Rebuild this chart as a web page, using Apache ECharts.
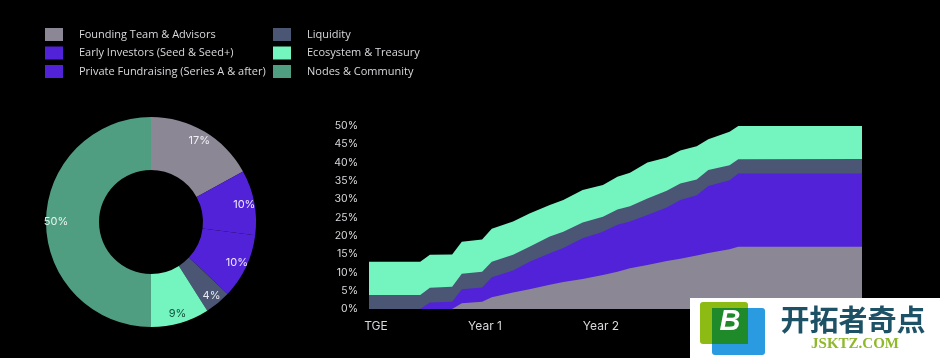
<!DOCTYPE html>
<html>
<head>
<meta charset="utf-8">
<style>html,body{margin:0;padding:0;background:#000}#c{width:940px;height:358px}</style>
<script src="https://cdn.jsdelivr.net/npm/echarts@6/dist/echarts.min.js"></script>
</head>
<body>
<div id="c"></div>
<script>
const allocationNames = ['Founding Team & Advisors','Early Investors (Seed & Seed+)','Private Fundraising (Series A & after)','Liquidity','Ecosystem & Treasury','Nodes & Community'];
const allocationValues = [17,10,10,4,9,50];
const allocationColors = ['#8b8794','#5222d8','#5222d8','#4a5673','#74f5c0','#4f9e82'];
const labelColors = ['#f2f0f5','#efe9ff','#efe9ff','#e8ebf2','#14503c','#e4f5ee'];

const months = [0,5.3,6.3,8.6,9.6,11.7,12.7,14.9,16.6,18.7,20.1,22.1,24.2,25.7,27,28.8,30.8,32.2,33.9,35.1,37.3,38.2,51];
const foundingTop = [0,0,0,0,1.6,2,3.2,4.5,5.4,6.6,7.4,8.2,9.3,10.2,11.1,12,13.1,13.7,14.6,15.3,16.3,17,17];
const investorsTop = [0,0,1.8,2,5.4,5.9,8.7,10.5,12.9,15.2,16.7,19.3,21.1,23,23.9,25.7,27.7,29.8,31.1,33.6,35.2,37,37];
const liquidityTop = [3.8,3.8,5.8,6.1,9.6,10.2,12.9,14.8,17,19.8,21.1,23.6,25.2,27.2,28.1,30.2,32.3,34.3,35.4,38,39.3,40.9,41];
const ecosystemTop = [12.9,12.9,14.8,14.9,18.4,19,21.9,23.9,26.1,28.4,29.8,32.5,33.9,36.1,37.2,40,41.4,43.3,44.5,46.4,48.4,50,50];
const xTickLabels = {0:'{t|TGE}',12:'Year 1',24:'Year 2',36:'Year 3',48:'Year 4'};

const textColor = '#d9d9dc';
const legendBase = {orient:'vertical',top:23,icon:'rect',itemWidth:18,itemHeight:13,itemGap:5.5,
  textStyle:{color:textColor,fontFamily:'"Open Sans"',fontSize:11,padding:[0,0,0,11]},selectedMode:false};

const pairs = top => months.map((m,i)=>[m,top[i]]);
const area = (name,color,top,z) => ({type:'line',name,data:pairs(top),symbol:'none',silent:true,z,
  lineStyle:{width:0},areaStyle:{color,opacity:1},itemStyle:{color},animation:false});

const chart = echarts.init(document.getElementById('c'),null,{renderer:'canvas'});
chart.setOption({
  backgroundColor:'#000',
  animation:false,
  legend:[
    {...legendBase,left:40,data:allocationNames.slice(0,3)},
    {...legendBase,left:268,data:allocationNames.slice(3)}
  ],
  grid:{left:369,right:78,top:126,bottom:49,containLabel:false},
  xAxis:{type:'value',min:0,max:51,interval:12,
    axisLine:{show:false},axisTick:{show:false},splitLine:{show:false},
    axisLabel:{color:textColor,fontFamily:'Inter',fontSize:12,margin:11,showMaxLabel:false,
      formatter:v=>xTickLabels[v]||'',rich:{t:{color:textColor,fontFamily:'Inter',fontSize:12,padding:[0,0,0,14]}}}},
  yAxis:{type:'value',min:0,max:50,interval:5,
    axisLine:{show:false},axisTick:{show:false},splitLine:{show:false},
    axisLabel:{color:textColor,fontFamily:'Inter',fontSize:10.5,margin:11,formatter:'{value}%'}},
  series:[
    {type:'pie',center:[151,222],radius:[52,105],startAngle:90,clockwise:true,silent:true,
      label:{show:false},labelLine:{show:false},emphasis:{disabled:true},
      data:allocationNames.map((n,i)=>({name:n,value:allocationValues[i],itemStyle:{color:allocationColors[i]}}))},
    {type:'pie',center:[151,222],radius:[79,105],startAngle:90,clockwise:true,silent:true,z:3,
      labelLine:{show:false},emphasis:{disabled:true},
      label:{show:true,position:'inside',fontFamily:'Inter',fontSize:11,formatter:'{c}%'},
      data:allocationNames.map((n,i)=>({name:'l'+i,value:allocationValues[i],itemStyle:{color:'transparent'},label:{color:labelColors[i]}}))},
    area('Ecosystem & Treasury',allocationColors[4],ecosystemTop,2),
    area('Liquidity',allocationColors[3],liquidityTop,3),
    area('Investors',allocationColors[1],investorsTop,4),
    area('Founding Team & Advisors',allocationColors[0],foundingTop,5)
  ],
  graphic:[
    {type:'rect',z:100,shape:{x:690,y:298,width:250,height:60},style:{fill:'#ffffff'}},
    {type:'rect',z:101,shape:{x:700,y:302,width:48,height:42,r:3},style:{fill:'#8dbb14'}},
    {type:'rect',z:102,shape:{x:712,y:308,width:53,height:47,r:3},style:{fill:'#2a9be0'}},
    {type:'rect',z:103,shape:{x:712,y:308,width:36,height:36},style:{fill:'#1f8a2a'}},
    {type:'text',z:104,style:{x:730,y:322,text:'B',fill:'#ffffff',font:'italic bold 29px "Liberation Sans"',align:'center',verticalAlign:'middle'}},
    {type:'text',z:104,style:{x:853,y:320,text:'开拓者奇点',fill:'#1d5165',font:'bold 29px "Noto Sans CJK SC"',align:'center',verticalAlign:'middle'}},
    {type:'text',z:104,style:{x:855,y:344,text:'JSKTZ.COM',fill:'#8fb82a',font:'bold 15px "Liberation Serif"',align:'center',verticalAlign:'middle'}}
  ]
});
</script>
</body>
</html>
